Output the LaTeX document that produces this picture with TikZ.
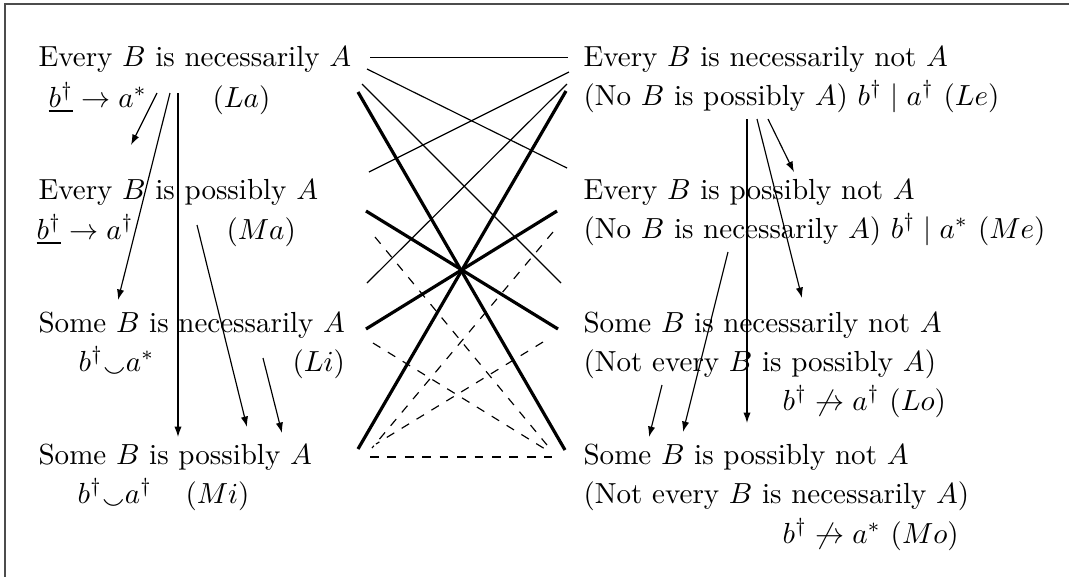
\documentclass[tikz,border=0pt]{standalone}
\usepackage{amsmath,amssymb}
\usetikzlibrary{arrows.meta}

\tikzset{
  prop/.style={anchor=base west,inner sep=0pt},
  imp/.style={-{Latex[length=3.6pt,width=2.5pt]}},
  contra/.style={line width=1.1pt},
  subalt/.style={dashed},
}
\newcommand{\smi}{\mathord{\raisebox{-0.6ex}{$\smallsmile$}}}

\begin{document}
\begin{tikzpicture}[x=0.3442pt,y=-0.3442pt]
  \useasboundingbox (0,0) rectangle (1069,577);
  \draw[black!70] (1069,4) -- (5,4) -- (5,577);

  % left column
  \node[prop] (La)  at (38,66)   {Every $B$ is necessarily $A$};
  \node[prop] (LaF) at (48,107)  {$\underline{b^\dagger}\rightarrow a^*$};
  \node[prop] (LaN) at (212,107) {$(La)$};
  \node[prop] (Ma)  at (38,199)  {Every $B$ is possibly $A$};
  \node[prop] (MaF) at (36,239)  {$\underline{b^\dagger}\rightarrow a^\dagger$};
  \node[prop] (MaN) at (226,239) {$(Ma)$};
  \node[prop] (Li)  at (38,332)  {Some $B$ is necessarily $A$};
  \node[prop] (LiF) at (78,371)  {$b^\dagger\smi a^*$};
  \node[prop] (LiN) at (292,371) {$(Li)$};
  \node[prop] (Mi)  at (38,464)  {Some $B$ is possibly $A$};
  \node[prop] (MiF) at (77,503)  {$b^\dagger\smi a^\dagger$};
  \node[prop] (MiN) at (185,503) {$(Mi)$};

  % right column
  \node[prop] (Le)  at (583,66)  {Every $B$ is necessarily not $A$};
  \node[prop] (LeF) at (583,105) {(No $B$ is possibly $A$) $b^\dagger\mid a^\dagger$ $(Le)$};
  \node[prop] (Me)  at (583,199) {Every $B$ is possibly not $A$};
  \node[prop] (MeF) at (583,238) {(No $B$ is necessarily $A$) $b^\dagger\mid a^*$ $(Me)$};
  \node[prop] (Lo)  at (583,332) {Some $B$ is necessarily not $A$};
  \node[prop] (LoG) at (583,371) {(Not every $B$ is possibly $A$)};
  \node[prop] (LoF) at (782,410) {$b^\dagger\not\rightarrow a^\dagger$ $(Lo)$};
  \node[prop] (Mo)  at (583,464) {Some $B$ is possibly not $A$};
  \node[prop] (MoG) at (583,503) {(Not every $B$ is necessarily $A$)};
  \node[prop] (MoF) at (782,543) {$b^\dagger\not\rightarrow a^*$ $(Mo)$};

  % ends of the implications
  \coordinate (la1) at (157,93);  \coordinate (la2) at (170,93);  \coordinate (la3) at (178,93);
  \coordinate (ma0) at (131,145); \coordinate (ma1) at (197,225);
  \coordinate (li0) at (118,300); \coordinate (li1) at (263,358);
  \coordinate (mi0) at (178,437); \coordinate (mi1) at (247,427); \coordinate (mi2) at (282,433);
  \coordinate (le1) at (768,119); \coordinate (le2) at (757,119); \coordinate (le3) at (747,119);
  \coordinate (me0) at (794,172); \coordinate (me1) at (728,252);
  \coordinate (lo0) at (802,298); \coordinate (lo1) at (662,385);
  \coordinate (mo0) at (747,423); \coordinate (mo1) at (683,432); \coordinate (mo2) at (649,437);

  \draw[imp] (la1) -- (ma0);
  \draw[imp] (la2) -- (li0);
  \draw[imp] (la3) -- (mi0);
  \draw[imp] (ma1) -- (mi1);
  \draw[imp] (li1) -- (mi2);
  \draw[imp] (le1) -- (me0);
  \draw[imp] (le2) -- (lo0);
  \draw[imp] (le3) -- (mo0);
  \draw[imp] (me1) -- (mo1);
  \draw[imp] (lo1) -- (mo2);

  % ends of the lines in the square
  \coordinate (laE1) at (370,57.5);  \coordinate (laE2) at (367,69);
  \coordinate (laE3) at (362,84);  \coordinate (laE4) at (358,92);
  \coordinate (maE1) at (369,172); \coordinate (maE2) at (366,211); \coordinate (maE3) at (375,237);
  \coordinate (liE1) at (367,283); \coordinate (liE2) at (366,329); \coordinate (liE3) at (373,343);
  \coordinate (miE1) at (358,449); \coordinate (miE2) at (372,448);
  \coordinate (miE3) at (376,444); \coordinate (miE4) at (370,457);
  \coordinate (leE1) at (568,57.5);  \coordinate (leE2) at (569,72);
  \coordinate (leE3) at (567,84);  \coordinate (leE4) at (566,91);
  \coordinate (meE1) at (567,168); \coordinate (meE2) at (557,211); \coordinate (meE3) at (553,232);
  \coordinate (loE1) at (561,283); \coordinate (loE2) at (558,329); \coordinate (loE3) at (543,342);
  \coordinate (moE1) at (565,450); \coordinate (moE2) at (547,445);
  \coordinate (moE3) at (545,449); \coordinate (moE4) at (552,457);

  \draw (laE1) -- (leE1);
  \draw (laE2) -- (meE1);
  \draw (laE3) -- (loE1);
  \draw (leE2) -- (maE1);
  \draw (leE3) -- (liE1);
  \draw[contra] (laE4) -- (moE1);
  \draw[contra] (leE4) -- (miE1);
  \draw[contra] (maE2) -- (loE2);
  \draw[contra] (meE2) -- (liE2);
  \draw[subalt] (maE3) -- (moE2);
  \draw[subalt] (meE3) -- (miE2);
  \draw[subalt] (liE3) -- (moE3);
  \draw[subalt] (loE3) -- (miE3);
  \draw[subalt] (miE4) -- (moE4);
\end{tikzpicture}
\end{document}
